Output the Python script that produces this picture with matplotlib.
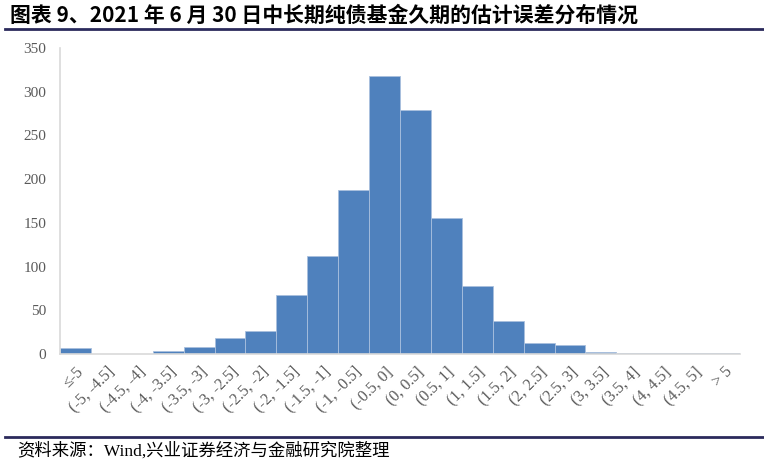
import matplotlib
matplotlib.use('agg')
import matplotlib.pyplot as plt
from matplotlib.lines import Line2D

## data
categories = ['≤-5', '(-5, -4.5]', '(-4.5, -4]', '(-4, -3.5]', '(-3.5, -3]', '(-3, -2.5]',
              '(-2.5, -2]', '(-2, -1.5]', '(-1.5, -1]', '(-1, -0.5]', '(-0.5, 0]', '(0, 0.5]',
              '(0.5, 1]', '(1, 1.5]', '(1.5, 2]', '(2, 2.5]', '(2.5, 3]', '(3, 3.5]',
              '(3.5, 4]', '(4, 4.5]', '(4.5, 5]', '> 5']
counts = [7, 0.5, 0.5, 3, 8, 18, 26, 68, 112, 188, 318, 279, 156, 78, 38, 13, 10, 2, 1, 1, 1, 1]
yticks = [0, 50, 100, 150, 200, 250, 300, 350]

title = '图表 9、2021 年 6 月 30 日中长期纯债基金久期的估计误差分布情况'
source = '资料来源：Wind,兴业证券经济与金融研究院整理'

serif = ['Liberation Serif', 'Noto Sans CJK SC', 'DejaVu Sans']
cjk = ['Noto Sans CJK SC', 'DejaVu Sans']

fig = plt.figure(figsize=(7.64, 4.63), dpi=100)
ax = fig.add_axes([60/764, (463-354)/463, 680/764, (354-48)/463])

x = range(len(categories))
ax.bar(x, counts, width=1.0, color='#4f81bd', edgecolor='#a9c0de', linewidth=0.6)
ax.set_xlim(-0.5, len(categories) - 0.5)
ax.set_ylim(0, 350)
ax.set_yticks(yticks)
ax.set_yticklabels([str(v) for v in yticks], family=serif, fontsize=11, color='#595959')
ax.set_xticks(list(x))
ax.set_xticklabels(categories, rotation=45, ha='right', rotation_mode='anchor',
                   family=serif, fontsize=11.5, color='#595959')
ax.tick_params(axis='both', length=0)
ax.tick_params(axis='y', pad=10)
ax.tick_params(axis='x', pad=7)
for side in ['top', 'right']:
    ax.spines[side].set_visible(False)
for side in ['left', 'bottom']:
    ax.spines[side].set_color('#d9d9d9')
    ax.spines[side].set_linewidth(1.2)

fig.text(10/764, 1 - 15/463, title, family=cjk, fontweight='bold', fontsize=15,
         va='center', ha='left', color='black')
fig.add_artist(Line2D([5/764, 1], [1 - 29/463, 1 - 29/463], color='#2b2a5c', lw=2))
fig.add_artist(Line2D([5/764, 1], [1 - 437/463, 1 - 437/463], color='#2b2a5c', lw=2))
fig.text(17/764, 1 - 451/463, source, family=serif, fontsize=12.5,
         va='center', ha='left', color='black')

fig.savefig('out.png', dpi=100)
